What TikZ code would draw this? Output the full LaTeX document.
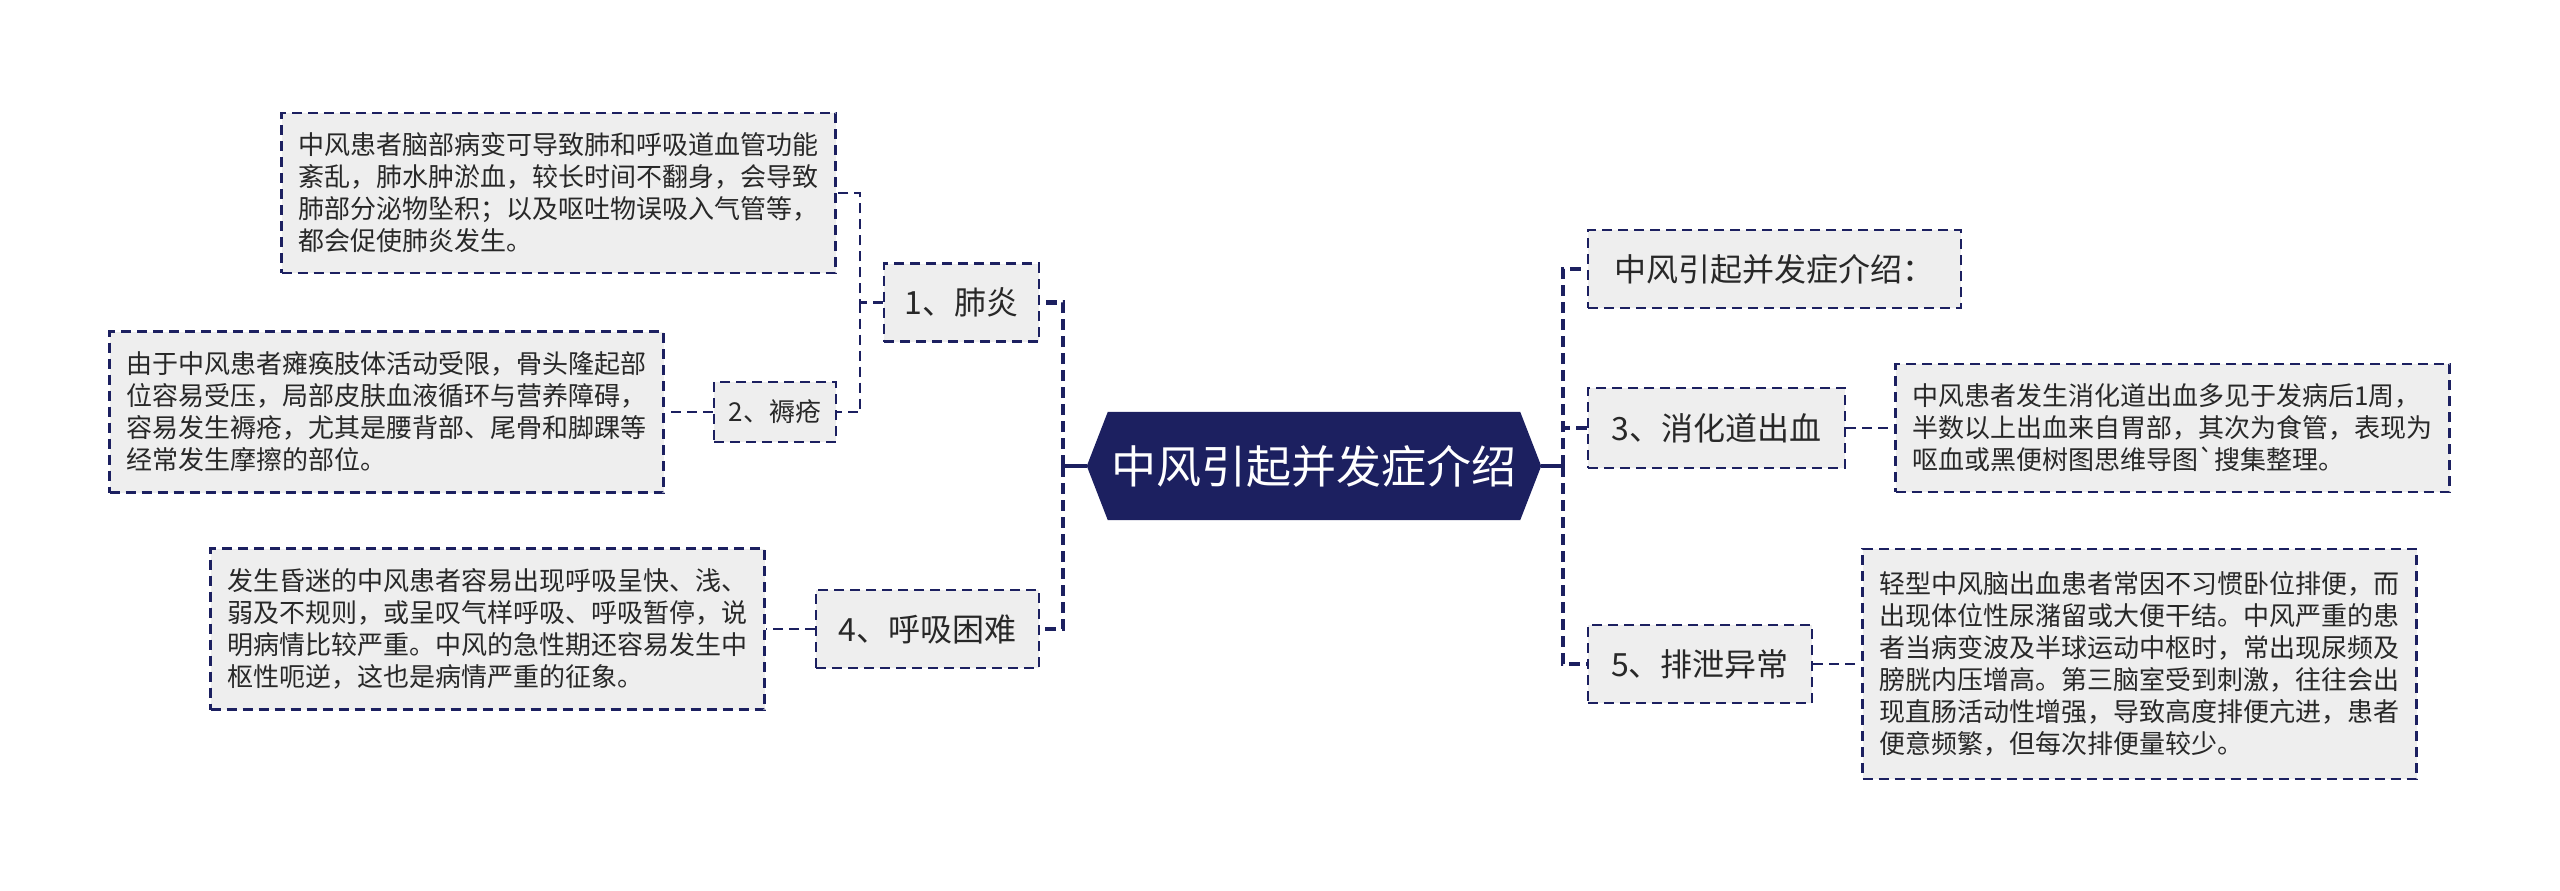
\documentclass[tikz,border=0pt]{standalone}
\usepackage{fontspec}
\setmainfont{Noto Sans CJK SC}
\newfontfamily\rawfont{Noto Sans CJK SC}
\usepackage{tikz}
\usetikzlibrary{positioning, calc, backgrounds}
\definecolor{cNavy}{RGB}{28,32,96}
\definecolor{cBox}{RGB}{238,238,238}
\definecolor{cInk}{RGB}{40,40,40}
\tikzset{
	rootnode/.style={minimum width=454pt, minimum height=108pt, inner sep=0pt, text=white, font=\fontsize{45}{54}\selectfont},
	topic/.style   ={rectangle, draw=cNavy, line width=2.5pt, dash pattern=on 10pt off 6pt, fill=cBox, text=cInk, minimum height=78pt, inner xsep=0pt, align=center, font=\fontsize{32}{38}\selectfont},
	note/.style    ={rectangle, draw=cNavy, line width=2.5pt, dash pattern=on 10pt off 6pt, fill=cBox, text=cInk, align=left, text width=520pt, inner xsep=17pt, font=\fontsize{26}{32}\selectfont},
	% connector styles
	trunk/.style   ={draw=cNavy, line width=4.5pt, dash pattern=on 11pt off 6pt},
	link/.style    ={draw=cNavy, line width=2.5pt, dash pattern=on 10pt off 6pt},
	stub/.style    ={draw=cNavy, line width=4.5pt},
}
\begin{document}
\begin{tikzpicture}[x=1pt, y=-1pt]
	\useasboundingbox (0,0) rectangle (2560,891);
	\node[rootnode] (root) at (1314,466) {中风引起并发症介绍};
	\begin{scope}[on background layer]
		\fill[cNavy] (root.west) -- ([xshift=21pt]root.north west) -- ([xshift=-21pt]root.north east) -- (root.east) -- ([xshift=-21pt]root.south east) -- ([xshift=21pt]root.south west) -- cycle;
	\end{scope}
	% left side
	\node[topic, minimum width=155pt] (b1) at (961.5,302.5) {1、肺炎};
	\node[topic, minimum width=122pt, minimum height=60pt, font=\fontsize{26}{32}\selectfont] (b2) at (775,412) {2、褥疮};
	\node[topic, minimum width=223pt] (b4) at (927.5,629) {4、呼吸困难};
	\node[note, minimum height=160pt] (n1) at (558.5,193) {中风患者脑部病变可导致肺和呼吸道血管功能\\紊乱，肺水肿淤血，较长时间不翻身，会导致\\肺部分泌物坠积；以及呕吐物误吸入气管等，\\都会促使肺炎发生。};
	\node[note, minimum height=161pt, left=48pt of b2] (n2) {由于中风患者瘫痪肢体活动受限，骨头隆起部\\位容易受压，局部皮肤血液循环与营养障碍，\\容易发生褥疮，尤其是腰背部、尾骨和脚踝等\\经常发生摩擦的部位。};
	\node[note, minimum height=161pt, left=49pt of b4] (n4) {发生昏迷的中风患者容易出现呼吸呈快、浅、\\弱及不规则，或呈叹气样呼吸、呼吸暂停，说\\明病情比较严重。中风的急性期还容易发生中\\枢性呃逆，这也是病情严重的征象。};
	% right side
	\node[topic, minimum width=373pt] (c0) at (1774.5,269) {中风引起并发症介绍：};
	\node[topic, minimum width=257pt, minimum height=80pt] (c3) at (1716.5,428) {3、消化道出血};
	\node[topic, minimum width=224pt] (c5) at (1700,664) {5、排泄异常};
	\node[note, minimum height=128pt, right=48pt of c3] (n3) {中风患者发生消化道出血多见于发病后1周，\\半数以上出血来自胃部，其次为食管，表现为\\呕血或黑便树图思维导图{\rawfont`}搜集整理。};
	\node[note, minimum height=230pt, right=48pt of c5] (n5) {轻型中风脑出血患者常因不习惯卧位排便，而\\出现体位性尿潴留或大便干结。中风严重的患\\者当病变波及半球运动中枢时，常出现尿频及\\膀胱内压增高。第三脑室受到刺激，往往会出\\现直肠活动性增强，导致高度排便亢进，患者\\便意频繁，但每次排便量较少。};
	% connectors
	\coordinate (lt) at (1063,466);
	\coordinate (rt) at (1563,466);
	\coordinate (lb) at (860,302.5);
	\draw[stub] (root.west) -- (lt);
	\draw[trunk] (lt) |- (b1.east);
	\draw[trunk] (lt) |- (b4.east);
	\draw[stub] (root.east) -- (rt);
	\draw[trunk] (rt) |- (c0.west);
	\draw[trunk] (rt) |- (c3.west);
	\draw[trunk] (rt) |- (c5.west);
	\draw[link] (b1.west) -- (lb) |- (n1.east);
	\draw[link] (lb) |- (b2.east);
	\draw[link] (b2.west) -- (n2.east);
	\draw[link] (b4.west) -- (n4.east);
	\draw[link] (c3.east) -- (n3.west);
	\draw[link] (c5.east) -- (n5.west);
\end{tikzpicture}
\end{document}
